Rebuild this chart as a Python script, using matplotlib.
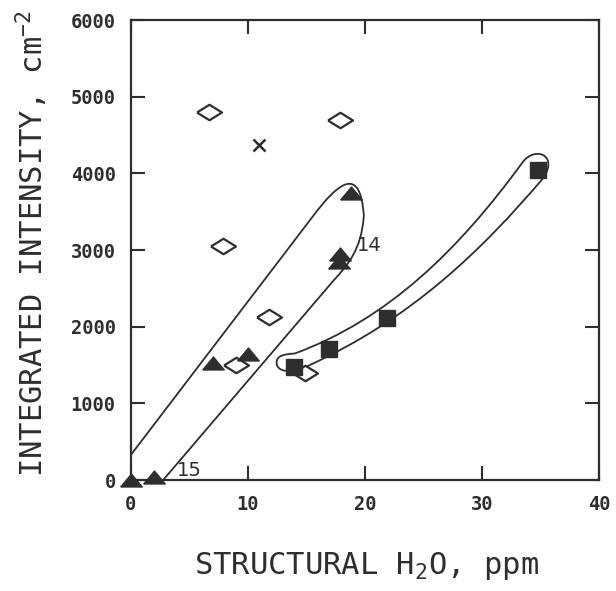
import matplotlib
matplotlib.use("Agg")
import matplotlib.pyplot as plt
from matplotlib.path import Path
from matplotlib.patches import PathPatch
import numpy as np

# data (x = structural H2O ppm, y = integrated intensity cm^-2)
diamond_x = [6.7, 7.9, 9.0, 11.8, 14.9, 17.9]
diamond_y = [4800, 3050, 1500, 2120, 1390, 4700]

cross_x = [10.9]
cross_y = [4370]

tri_x = [0.0, 2.0, 7.0, 10.0, 17.8, 17.9, 18.8]
tri_y = [0, 40, 1530, 1650, 2840, 2950, 3740]

sq_x = [13.9, 16.9, 21.9, 34.8]
sq_y = [1470, 1710, 2110, 4050]

# hand-drawn envelopes (data units)
loop1 = [(0.0, 330), (15.5, 3430), (17.8, 3900), (19.6, 4100), (19.9, 3450),
         (19.7, 3000), (18.5, 2800), (17.3, 2600), (2.75, 0)]
loop1_codes = [Path.MOVETO, Path.LINETO, Path.CURVE4, Path.CURVE4, Path.CURVE4,
               Path.CURVE4, Path.CURVE4, Path.CURVE4, Path.LINETO]
loop2 = [(12.45, 1520), (12.4, 1620), (13.0, 1640), (14.0, 1650),
         (22.0, 2100), (28.0, 3000), (33.5, 4150),
         (34.5, 4350), (36.5, 4250), (35.3, 3950),
         (30.0, 3000), (24.0, 2100), (15.0, 1480),
         (13.5, 1380), (12.5, 1420), (12.45, 1520)]
loop2_codes = [Path.MOVETO] + [Path.CURVE4] * 15

plt.rcParams['mathtext.fontset'] = 'custom'
plt.rcParams['mathtext.rm'] = 'DejaVu Sans Mono'
plt.rcParams['mathtext.it'] = 'DejaVu Sans Mono'

fig = plt.figure(figsize=(6.16, 5.91), dpi=100)
ax = fig.add_axes([131/616, 1-480/591, 468/616, 460/591])

dark = '#2e2e2e'
diam = [(-1, 0), (0, 0.62), (1, 0), (0, -0.62), (-1, 0)]
tri = [(-1, -0.6), (1, -0.6), (0, 0.6), (-1, -0.6)]

ax.add_patch(PathPatch(Path(loop1, loop1_codes), fill=False, lw=1.3, ec=dark, zorder=2))
ax.add_patch(PathPatch(Path(loop2, loop2_codes), fill=False, lw=1.3, ec=dark, zorder=2))

ax.plot(diamond_x, diamond_y, ls='none', marker=diam, ms=18, mfc='white',
        mec=dark, mew=1.6, zorder=4, clip_on=False)
ax.plot(cross_x, cross_y, ls='none', marker='x', ms=9, mec=dark, mew=1.8, zorder=4)
ax.plot(tri_x, tri_y, ls='none', marker=tri, ms=15.5, color=dark, zorder=5, clip_on=False)
ax.plot(sq_x, sq_y, ls='none', marker='s', ms=11.5, color=dark, zorder=5)

ax.text(3.9, 0, '15', fontsize=14, color=dark, ha='left', va='bottom')
ax.text(19.3, 2930, '14', fontsize=14, color=dark, ha='left', va='bottom')

ax.set_xlim(0, 40)
ax.set_ylim(0, 6000)
ax.set_xticks([0, 10, 20, 30, 40])
ax.set_yticks([0, 1000, 2000, 3000, 4000, 5000, 6000])
ax.tick_params(direction='in', length=10, width=1.5, top=True, right=True,
               labelsize=13.5, pad=11, colors=dark)
for lab in ax.get_xticklabels() + ax.get_yticklabels():
    lab.set_family('DejaVu Sans Mono')
    lab.set_weight('bold')
for s in ax.spines.values():
    s.set_linewidth(1.6)
    s.set_color(dark)

fig.text(367/616, 1-566/591, r'STRUCTURAL H$_2$O, ppm', family='DejaVu Sans Mono',
         fontsize=22, ha='center', va='center', color=dark)
fig.text(32/616, 1-244/591, r'INTEGRATED INTENSITY, cm$^{-2}$', family='DejaVu Sans Mono',
         fontsize=22, ha='center', va='center', rotation=90, color=dark)

fig.savefig('out.png', dpi=100)
